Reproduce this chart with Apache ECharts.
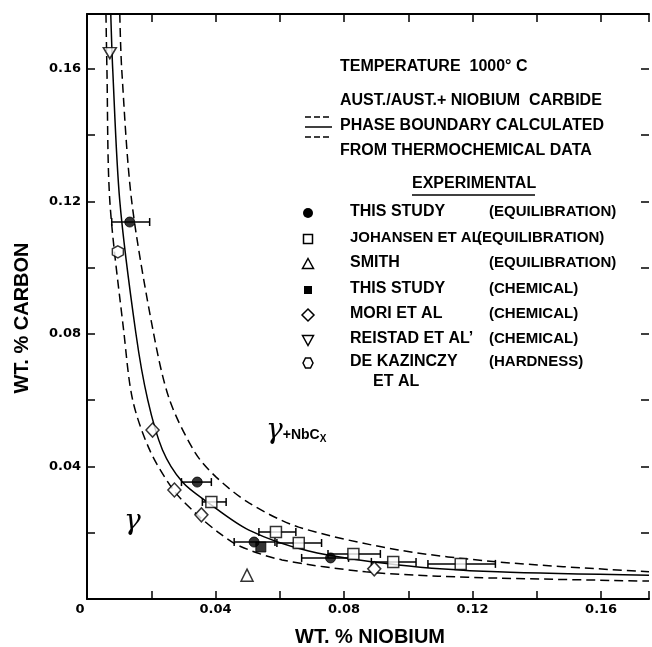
<!DOCTYPE html>
<html>
<head>
<meta charset="utf-8">
<script src="https://cdn.jsdelivr.net/npm/echarts@6/dist/echarts.min.js"></script>
<style>
  html, body { margin: 0; padding: 0; background: #fff; }
  #chart { width: 652px; height: 647px; }
</style>
</head>
<body>
<div id="chart"></div>
<script>
// phase boundary curves (wt.% Nb, wt.% C)
var solidX = [0.0074, 0.0080, 0.0102, 0.0152, 0.0189, 0.0235, 0.0297, 0.0374, 0.0504, 0.0690, 0.0969, 0.1278, 0.1749];
var solidY = [0.1766, 0.1600, 0.1202, 0.0803, 0.0601, 0.0450, 0.0353, 0.0293, 0.0208, 0.0145, 0.0103, 0.0082, 0.0072];
var upperX = [0.0102, 0.0108, 0.0139, 0.0207, 0.0257, 0.0337, 0.0402, 0.0504, 0.0659, 0.0969, 0.1278, 0.1749];
var upperY = [0.1766, 0.1600, 0.1202, 0.0803, 0.0601, 0.0441, 0.0368, 0.0290, 0.0217, 0.0148, 0.0112, 0.0082];
var lowerX = [0.0059, 0.0062, 0.0071, 0.0115, 0.0142, 0.0195, 0.0269, 0.0340, 0.0412, 0.0474, 0.0607, 0.0867, 0.1093, 0.1278, 0.1749];
var lowerY = [0.1766, 0.1600, 0.1202, 0.0803, 0.0601, 0.0450, 0.0329, 0.0257, 0.0199, 0.0160, 0.0118, 0.0082, 0.0069, 0.0063, 0.0054];

// experimental points
var thisEqX = [0.0133, 0.0343, 0.0520, 0.0758];
var thisEqY = [0.1138, 0.0353, 0.0172, 0.0124];
var thisEqLo = [0.0077, 0.0294, 0.0458, 0.0668];
var thisEqHi = [0.0195, 0.0387, 0.0585, 0.0814];
var johX = [0.0387, 0.0588, 0.0659, 0.0829, 0.0953, 0.1163];
var johY = [0.0293, 0.0202, 0.0169, 0.0136, 0.0112, 0.0106];
var johLo = [0.0359, 0.0535, 0.0591, 0.0750, 0.0885, 0.1061];
var johHi = [0.0433, 0.0650, 0.0730, 0.0913, 0.1024, 0.1271];
var smithX = [0.0498];
var smithY = [0.0072];
var thisChemX = [0.0541];
var thisChemY = [0.0157];
var moriX = [0.0204, 0.0272, 0.0356, 0.0894];
var moriY = [0.0510, 0.0329, 0.0254, 0.0091];
var reistadX = [0.0071];
var reistadY = [0.1648];
var kazX = [0.0096];
var kazY = [0.1048];

var legendNames = ['THIS STUDY', 'JOHANSEN ET AL', 'SMITH', 'THIS STUDY', 'MORI ET AL', 'REISTAD ET AL\u2019', 'DE KAZINCZY'];
var legendMethods = ['(EQUILIBRATION)', '(EQUILIBRATION)', '(EQUILIBRATION)', '(CHEMICAL)', '(CHEMICAL)', '(CHEMICAL)', '(HARDNESS)'];

function zip(xs, ys) {
  return xs.map(function (x, i) { return [x, ys[i]]; });
}
function bars(xs, ys, lo, hi) {
  return xs.map(function (x, i) { return [lo[i], hi[i], ys[i]]; });
}

var hexPath = 'path://M5,0 L9.5,2.6 L9.5,7.8 L5,10.4 L0.5,7.8 L0.5,2.6 Z';
var downTri = 'path://M0,0 L12,0 L6,10.5 Z';

var openStyle = { color: '#fff', borderColor: '#000', borderWidth: 1.5 };
var fillStyle = { color: '#000', borderColor: '#000', borderWidth: 1 };
var tickFont = { fontFamily: 'DejaVu Sans', fontWeight: 'bold', fontSize: 13, color: '#000' };

function isMajor(v) {
  return Math.abs(v / 0.04 - Math.round(v / 0.04)) < 1e-6;
}

var chart = echarts.init(document.getElementById('chart'));

var lineBase = { color: '#000', width: 1.5 };

var nameFont = 'bold 16px "Liberation Sans", Arial, sans-serif';
var methodFont = 'bold 15px "Liberation Sans", Arial, sans-serif';
var graphics = [];
var rowY = [213, 239, 264, 290, 315, 340, 363];
legendNames.forEach(function (n, i) {
  graphics.push({ type: 'text', left: 350, top: rowY[i] - 9, style: { text: n, font: i === 1 ? methodFont : nameFont, fill: '#000' } });
  graphics.push({ type: 'text', left: i === 1 ? 477 : 489, top: rowY[i] - 9, style: { text: legendMethods[i], font: methodFont, fill: '#000' } });
});
graphics.push({ type: 'text', left: 373, top: 374, style: { text: 'ET AL', font: nameFont, fill: '#000' } });
// legend keys
var kx = 308;
graphics.push({ type: 'circle', shape: { cx: kx, cy: rowY[0], r: 5 }, style: { fill: '#000' } });
graphics.push({ type: 'rect', shape: { x: kx - 4.5, y: rowY[1] - 4.5, width: 9, height: 9 }, style: { fill: '#fff', stroke: '#000', lineWidth: 1.5 } });
graphics.push({ type: 'polygon', shape: { points: [[kx, rowY[2] - 5.5], [kx + 5.5, rowY[2] + 4.5], [kx - 5.5, rowY[2] + 4.5]] }, style: { fill: '#fff', stroke: '#000', lineWidth: 1.5 } });
graphics.push({ type: 'rect', shape: { x: kx - 4, y: rowY[3] - 4, width: 8, height: 8 }, style: { fill: '#000' } });
graphics.push({ type: 'polygon', shape: { points: [[kx, rowY[4] - 6], [kx + 6, rowY[4]], [kx, rowY[4] + 6], [kx - 6, rowY[4]]] }, style: { fill: '#fff', stroke: '#000', lineWidth: 1.5 } });
graphics.push({ type: 'polygon', shape: { points: [[kx - 5.5, rowY[5] - 4.5], [kx + 5.5, rowY[5] - 4.5], [kx, rowY[5] + 5.5]] }, style: { fill: '#fff', stroke: '#000', lineWidth: 1.5 } });
graphics.push({ type: 'polygon', shape: { points: [[kx - 2.5, rowY[6] - 5], [kx + 2.5, rowY[6] - 5], [kx + 5, rowY[6]], [kx + 2.5, rowY[6] + 5], [kx - 2.5, rowY[6] + 5], [kx - 5, rowY[6]]] }, style: { fill: '#fff', stroke: '#000', lineWidth: 1.5 } });

// header texts
graphics.push({ type: 'text', left: 340, top: 59, style: { text: 'TEMPERATURE  1000\u00b0 C', font: nameFont, fill: '#000' } });
graphics.push({ type: 'text', left: 340, top: 93, style: { text: 'AUST./AUST.+ NIOBIUM  CARBIDE', font: nameFont, fill: '#000' } });
graphics.push({ type: 'text', left: 340, top: 118, style: { text: 'PHASE BOUNDARY CALCULATED', font: nameFont, fill: '#000' } });
graphics.push({ type: 'text', left: 340, top: 143, style: { text: 'FROM THERMOCHEMICAL DATA', font: nameFont, fill: '#000' } });
graphics.push({ type: 'line', shape: { x1: 305, y1: 117, x2: 332, y2: 117 }, style: { stroke: '#000', lineWidth: 1.5, lineDash: [6, 3] } });
graphics.push({ type: 'line', shape: { x1: 305, y1: 127, x2: 332, y2: 127 }, style: { stroke: '#000', lineWidth: 1.5 } });
graphics.push({ type: 'line', shape: { x1: 305, y1: 137, x2: 332, y2: 137 }, style: { stroke: '#000', lineWidth: 1.5, lineDash: [6, 3] } });
graphics.push({ type: 'text', left: 412, top: 176, style: { text: 'EXPERIMENTAL', font: nameFont, fill: '#000' } });
graphics.push({ type: 'line', shape: { x1: 412, y1: 195, x2: 535, y2: 195 }, style: { stroke: '#000', lineWidth: 1.5 } });

// region labels
graphics.push({ type: 'text', left: 124, top: 508, style: { text: '\u03b3', font: 'italic 28px "DejaVu Serif", serif', fill: '#000' } });
graphics.push({
  type: 'text', left: 266, top: 417,
  style: {
    text: '{g|\u03b3}{p|+NbC}{s|X}',
    rich: {
      g: { font: 'italic 28px "DejaVu Serif", serif', fill: '#000' },
      p: { font: 'bold 14px "Liberation Sans", Arial, sans-serif', fill: '#000', padding: [8, 0, 0, 0] },
      s: { font: 'bold 10px "Liberation Sans", Arial, sans-serif', fill: '#000', padding: [16, 0, 0, 0] }
    }
  }
});
// axis titles
graphics.push({ type: 'text', x: 22, y: 318, rotation: Math.PI / 2, style: { text: 'WT. % CARBON', font: 'bold 20px "Liberation Sans", Arial, sans-serif', fill: '#000', align: 'center', verticalAlign: 'middle' } });
graphics.push({ type: 'text', x: 370, y: 637, style: { text: 'WT. % NIOBIUM', font: 'bold 20px "Liberation Sans", Arial, sans-serif', fill: '#000', align: 'center', verticalAlign: 'middle' } });

function errBarItem(params, api) {
  var a = api.coord([api.value(0), api.value(2)]);
  var b = api.coord([api.value(1), api.value(2)]);
  var st = { stroke: '#000', lineWidth: 1.5 };
  return {
    type: 'group',
    children: [
      { type: 'line', shape: { x1: a[0], y1: a[1], x2: b[0], y2: b[1] }, style: st },
      { type: 'line', shape: { x1: a[0], y1: a[1] - 4, x2: a[0], y2: a[1] + 4 }, style: st },
      { type: 'line', shape: { x1: b[0], y1: b[1] - 4, x2: b[0], y2: b[1] + 4 }, style: st }
    ]
  };
}

var axisCommon = {
  type: 'value',
  min: 0,
  interval: 0.02,
  splitLine: { show: false },
  axisLine: { onZero: false, lineStyle: { color: '#000', width: 2 } },
  axisTick: { inside: true, length: 8, lineStyle: { color: '#000', width: 1.5 } }
};

chart.setOption({
  animation: false,
  backgroundColor: '#fff',
  grid: { left: 87, top: 14, right: 0, bottom: 48 },
  xAxis: [
    Object.assign({}, axisCommon, {
      max: 0.1749, position: 'bottom',
      axisLabel: Object.assign({
        margin: 4,
        formatter: function (v) { return isMajor(v) ? (v === 0 ? '{z|0}' : v.toFixed(2)) : ''; },
        rich: { z: { fontFamily: 'DejaVu Sans', fontWeight: 'bold', fontSize: 13, color: '#000', padding: [0, 14, 0, 0] } }
      }, tickFont)
    }),
    Object.assign({}, axisCommon, { max: 0.1749, position: 'top', axisLabel: { show: false } })
  ],
  yAxis: [
    Object.assign({}, axisCommon, {
      max: 0.1766, position: 'left',
      axisLabel: Object.assign({ margin: 6, formatter: function (v) { return (isMajor(v) && v !== 0) ? v.toFixed(2) : ''; } }, tickFont)
    }),
    Object.assign({}, axisCommon, {
      max: 0.1766, position: 'right', axisLabel: { show: false },
      axisLine: { show: false, onZero: false }
    })
  ],
  graphic: graphics,
  series: [
    { type: 'line', data: zip(upperX, upperY), showSymbol: false, smooth: 0.3, lineStyle: Object.assign({ type: [9, 5] }, lineBase) },
    { type: 'line', data: zip(solidX, solidY), showSymbol: false, smooth: 0.3, lineStyle: lineBase },
    { type: 'line', data: zip(lowerX, lowerY), showSymbol: false, smooth: 0.3, lineStyle: Object.assign({ type: [9, 5] }, lineBase) },
    { type: 'custom', renderItem: errBarItem, data: bars(thisEqX, thisEqY, thisEqLo, thisEqHi), z: 3 },
    { type: 'custom', renderItem: errBarItem, data: bars(johX, johY, johLo, johHi), z: 3 },
    { name: 'THIS STUDY (EQUILIBRATION)', type: 'scatter', data: zip(thisEqX, thisEqY), symbol: 'circle', symbolSize: 10, itemStyle: fillStyle, z: 5 },
    { name: 'JOHANSEN ET AL', type: 'scatter', data: zip(johX, johY), symbol: 'rect', symbolSize: 11, itemStyle: openStyle, z: 5 },
    { name: 'SMITH', type: 'scatter', data: zip(smithX, smithY), symbol: 'triangle', symbolSize: 12, itemStyle: openStyle, z: 5 },
    { name: 'THIS STUDY (CHEMICAL)', type: 'scatter', data: zip(thisChemX, thisChemY), symbol: 'rect', symbolSize: 10, itemStyle: fillStyle, z: 5 },
    { name: 'MORI ET AL', type: 'scatter', data: zip(moriX, moriY), symbol: 'diamond', symbolSize: [13, 14], itemStyle: openStyle, z: 5 },
    { name: 'REISTAD ET AL', type: 'scatter', data: zip(reistadX, reistadY), symbol: downTri, symbolSize: [13, 11], itemStyle: openStyle, z: 5 },
    { name: 'DE KAZINCZY ET AL', type: 'scatter', data: zip(kazX, kazY), symbol: hexPath, symbolSize: [11, 12], itemStyle: openStyle, z: 5 }
  ]
});
</script>
</body>
</html>
